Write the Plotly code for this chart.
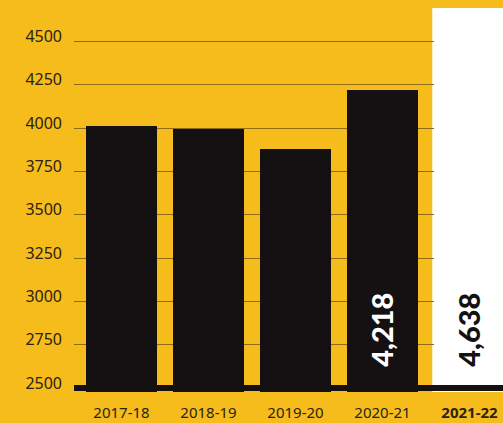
import plotly.graph_objects as go

categories = ["2017-18", "2018-19", "2019-20", "2020-21", "2021-22"]
values = [4010, 3993, 3877, 4218, 4638]
labelled = [False, False, False, True, True]
tick_vals = [2500, 2750, 3000, 3250, 3500, 3750, 4000, 4250, 4500]

BG = "#F6BC1C"
BAR = "#151113"
TXT = "#2a2312"

idx = list(range(len(categories)))
bar_colors = [BAR] * (len(categories) - 1) + ["#FFFFFF"]
bw = 0.816

fig = go.Figure()
fig.add_trace(go.Bar(
    x=idx, y=values, width=bw,
    marker=dict(color=bar_colors, line=dict(width=0)),
    hoverinfo="skip",
))

# highlight column for latest year
fig.add_shape(type="rect", xref="x", yref="paper",
              x0=idx[-1] - bw / 2 - 0.02, x1=idx[-1] + bw / 2, y0=0, y1=1,
              fillcolor="#FFFFFF", line=dict(width=0), layer="between")

# baseline
fig.add_shape(type="line", xref="paper", yref="y", x0=0, x1=1,
              y0=tick_vals[0], y1=tick_vals[0],
              line=dict(color=BAR, width=6), layer="above")

for i, v, lab, c in zip(idx, values, labelled, bar_colors):
    if lab:
        fig.add_annotation(x=i - 0.02, y=tick_vals[0], xref="x", yref="y",
                           text=f"{v:,}", textangle=-90, showarrow=False,
                           yanchor="bottom", yshift=19,
                           font=dict(family="Lato", size=29, weight=900,
                                     color="#FFFFFF" if c == BAR else BAR))

ticktext = [c if i < len(categories) - 1 else f"<b>{c}</b>" for i, c in enumerate(categories)]

fig.update_layout(
    width=503, height=423,
    margin=dict(l=74, r=0, t=8, b=31),
    paper_bgcolor=BG, plot_bgcolor=BG,
    showlegend=False,
    bargap=0,
    xaxis=dict(range=[-0.546, 4.385], tickvals=idx, ticktext=ticktext,
               showgrid=False, zeroline=False, showline=False, ticks="",
               tickfont=dict(family="Noto Sans", size=15, color=TXT),
               ticklabelstandoff=10, fixedrange=True),
    yaxis=dict(range=[2477, 4693], tickvals=tick_vals,
               showgrid=True, gridcolor="#8f6c14", gridwidth=1.2,
               zeroline=False, showline=False, ticks="",
               tickfont=dict(family="Noto Sans", size=16, color=TXT),
               ticklabelstandoff=11, ticklabelshift=-5, fixedrange=True),
)

fig.write_html("out.html")
